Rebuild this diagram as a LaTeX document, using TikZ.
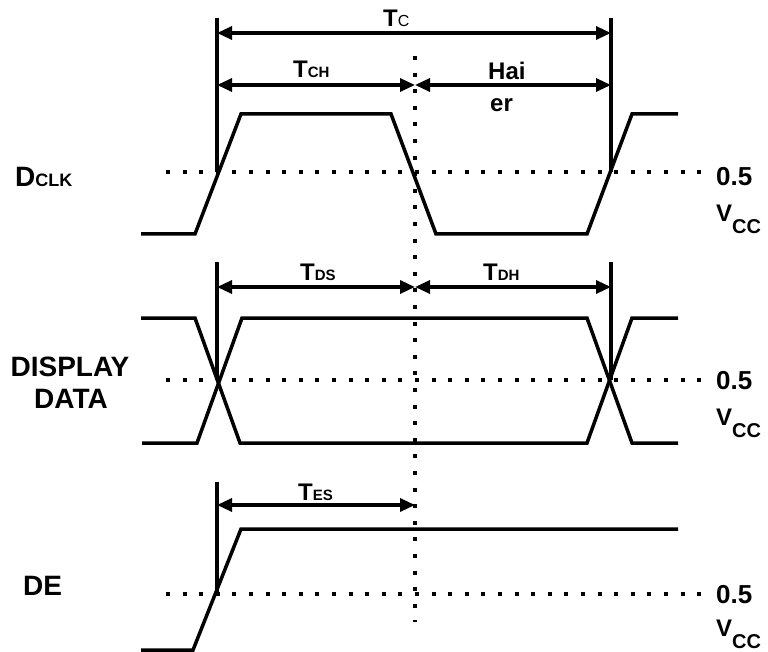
\documentclass[tikz,border=0pt]{standalone}
\usepackage{fontspec}
\setmainfont{Liberation Sans}
\usetikzlibrary{arrows.meta}
\newcommand\bigT{\fontsize{24}{26}\selectfont T}
\newcommand\smallsub[1]{{\fontsize{15}{17}\selectfont #1}}
\newcommand\vcclabel{\fontsize{24}{26}\selectfont V\raisebox{-12pt}{\fontsize{20}{20}\selectfont CC}}
\begin{document}
\begin{tikzpicture}[x=1pt,y=-1pt,
  wave/.style={line width=3.5pt, line join=miter},
  guide/.style={line width=3.5pt},
  dimarrow/.style={line width=3.2pt, {Triangle[length=15pt,width=13pt]}-{Triangle[length=15pt,width=13pt]}},
  dotline/.style={line width=4pt, dash pattern=on 4pt off 12.6pt},
  lbl/.style={inner sep=0pt, anchor=base west, font=\bfseries},
  clbl/.style={inner sep=0pt, anchor=base, font=\bfseries},
]
\useasboundingbox (0,0) rectangle (768,652);

% reference coordinates
\coordinate (L1top) at (217,18);  \coordinate (L1mid) at (217,172);
\coordinate (R1top) at (611,18);  \coordinate (R1mid) at (611,172);
\coordinate (L2top) at (217,262); \coordinate (L2mid) at (217,380);
\coordinate (R2top) at (611,262); \coordinate (R2mid) at (611,380);
\coordinate (L3top) at (217,482); \coordinate (L3mid) at (217,594);
\coordinate (Dtop) at (415,56);   \coordinate (Dbot) at (415,622);

% dotted threshold lines
\draw[dotline] (166,172) -- (704,172);
\draw[dotline] (166,380) -- (704,380);
\draw[dotline] (166,594) -- (704,594);
\draw[dotline] (Dtop) -- (Dbot);

% vertical reference lines
\draw[guide] (L1top) -- (L1mid);
\draw[guide] (R1top) -- (R1mid);
\draw[guide] (L2top) -- (L2mid);
\draw[guide] (R2top) -- (R2mid);
\draw[guide] (L3top) -- (L3mid);

% dimension arrows
\coordinate (tcL) at (217,33);  \coordinate (tcR) at (611,33);
\coordinate (chL) at (217,85);  \coordinate (chM) at (415,85); \coordinate (chR) at (611,85);
\coordinate (dsL) at (217,287); \coordinate (dsM) at (415,287); \coordinate (dsR) at (611,287);
\coordinate (esL) at (217,505); \coordinate (esM) at (415,505);
\draw[dimarrow] (tcL) -- (tcR);
\draw[dimarrow] (chL) -- (chM);
\draw[dimarrow] (chM) -- (chR);
\draw[dimarrow] (dsL) -- (dsM);
\draw[dimarrow] (dsM) -- (dsR);
\draw[dimarrow] (esL) -- (esM);

% waveforms
\draw[wave] (141,234) -- (195,234) -- (241,114) -- (391,114) -- (436,234) -- (587,234) -- (632,114) -- (678,114);
\draw[wave] (141,318) -- (195,318) -- (240,443) -- (587,443) -- (632,318) -- (678,318);
\draw[wave] (142,443) -- (197,443) -- (242,318) -- (587,318) -- (632,443) -- (678,443);
\draw[wave] (141,650) -- (193,650) -- (241,529) -- (678,529);

% timing labels
\node[lbl] (tc) at (383,27) {\bigT{\mdseries\fontsize{16}{17}\selectfont C}};
\node[lbl] (tch) at (293,78) {\bigT\smallsub{CH}};
\node[lbl] (hai) at (488,80) {\fontsize{24}{26}\selectfont Hai};
\node[lbl] (er) at (490,112) {\fontsize{24}{26}\selectfont er};
\node[lbl] (tds) at (300,280) {\bigT\smallsub{DS}};
\node[lbl] (tdh) at (483,280) {\bigT\smallsub{DH}};
\node[lbl] (tes) at (298,500) {\bigT\smallsub{ES}};

% signal names
\node[lbl] (dclk) at (15,187) {\fontsize{28}{30}\selectfont D\fontsize{18}{20}\selectfont CLK};
\node[clbl] (disp) at (70,376) {\fontsize{28}{30}\selectfont DISPLAY};
\node[clbl] (data) at (71,408) {\fontsize{28}{30}\selectfont DATA};
\node[lbl] (de) at (23,595) {\fontsize{28}{30}\selectfont DE};

% threshold labels
\node[lbl] (h1) at (716,186) {\fontsize{26}{28}\selectfont 0.5};
\node[lbl] (v1) at (716,222) {\vcclabel};
\node[lbl] (h2) at (716,389) {\fontsize{26}{28}\selectfont 0.5};
\node[lbl] (v2) at (716,425) {\vcclabel};
\node[lbl] (h3) at (716,603) {\fontsize{26}{28}\selectfont 0.5};
\node[lbl] (v3) at (716,636) {\vcclabel};
\end{tikzpicture}
\end{document}
